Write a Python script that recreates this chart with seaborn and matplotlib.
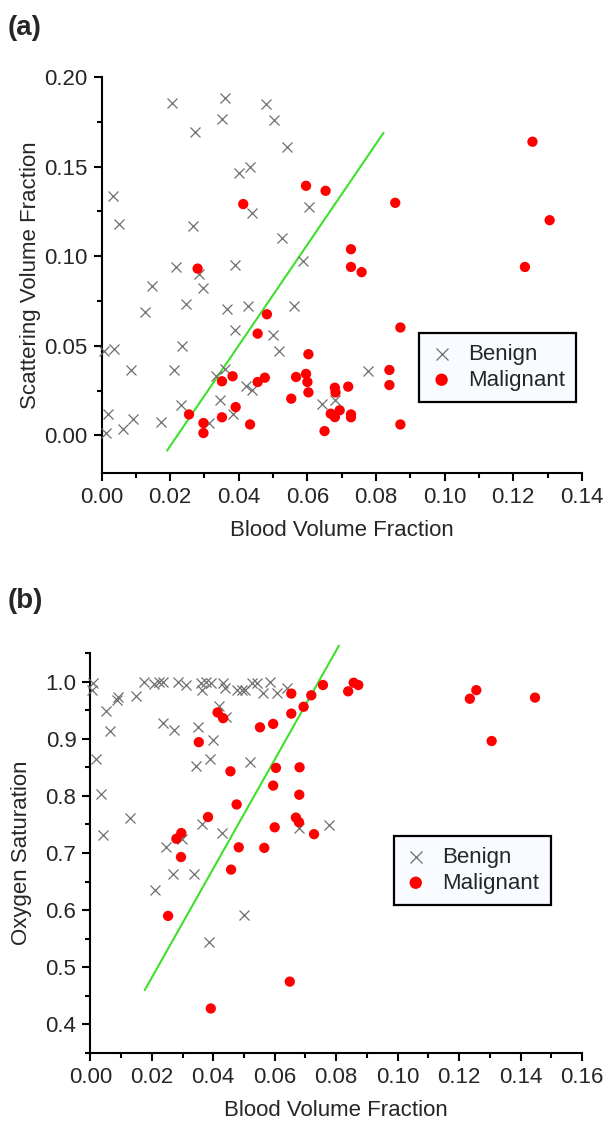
import numpy as np
import pandas as pd
import matplotlib
matplotlib.use("Agg")
import matplotlib.pyplot as plt
import seaborn as sns
from matplotlib.ticker import AutoMinorLocator, FixedLocator, FormatStrFormatter

sns.set_style("ticks")
plt.rcParams['font.family'] = ['Liberation Sans', 'DejaVu Sans']

# ---------------- Panel (a) data ----------------
a_benign_bvf = [0.0206, 0.0360, 0.0478, 0.0351, 0.0503, 0.0271, 0.0541, 0.0401, 0.0433, 0.0033,
                0.0438, 0.0051, 0.0267, 0.0527, 0.0216, 0.0389, 0.0285, 0.0606, 0.0586, 0.0148,
                0.0297, 0.0246, 0.0126, 0.0365, 0.0428, 0.0389, 0.0007, 0.0036, 0.0235, 0.0086,
                0.0211, 0.0334, 0.0360, 0.0421, 0.0439, 0.0346, 0.0231, 0.0018, 0.0091, 0.0174,
                0.0063, 0.0012, 0.0314, 0.0384, 0.0560, 0.0500, 0.0518, 0.0778, 0.0642, 0.0680]
a_benign_svf = [0.1853, 0.1881, 0.1849, 0.1765, 0.1758, 0.1694, 0.1607, 0.1465, 0.1499, 0.1335,
                0.1242, 0.1179, 0.1168, 0.1099, 0.0937, 0.0950, 0.0903, 0.1274, 0.0972, 0.0836,
                0.0823, 0.0736, 0.0688, 0.0708, 0.0721, 0.0587, 0.0469, 0.0484, 0.0499, 0.0363,
                0.0363, 0.0331, 0.0373, 0.0276, 0.0251, 0.0196, 0.0172, 0.0117, 0.0089, 0.0074,
                0.0037, 0.0015, 0.0071, 0.0117, 0.0723, 0.0559, 0.0473, 0.0357, 0.0177, 0.0199]
a_malig_bvf = [0.0413, 0.0280, 0.0596, 0.0653, 0.0856, 0.0727, 0.0727, 0.0758, 0.1256, 0.1306,
               0.1234, 0.0255, 0.0297, 0.0297, 0.0351, 0.0382, 0.0351, 0.0391, 0.0433, 0.0455,
               0.0455, 0.0482, 0.0871, 0.0603, 0.0476, 0.0567, 0.0596, 0.0600, 0.0603, 0.0553,
               0.0680, 0.0682, 0.0719, 0.0668, 0.0680, 0.0694, 0.0727, 0.0727, 0.0650, 0.0839,
               0.0839, 0.0871]
a_malig_svf = [0.1291, 0.0931, 0.1393, 0.1365, 0.1298, 0.1039, 0.0940, 0.0911, 0.1639, 0.1201,
               0.0940, 0.0117, 0.0069, 0.0013, 0.0302, 0.0330, 0.0101, 0.0158, 0.0061, 0.0298,
               0.0568, 0.0676, 0.0602, 0.0453, 0.0322, 0.0326, 0.0343, 0.0298, 0.0240, 0.0205,
               0.0266, 0.0240, 0.0272, 0.0121, 0.0102, 0.0140, 0.0117, 0.0101, 0.0024, 0.0365,
               0.0281, 0.0061]
a_line_x = [0.0191, 0.0822]
a_line_y = [-0.0085, 0.1689]
a_xticks = [0.00, 0.02, 0.04, 0.06, 0.08, 0.10, 0.12, 0.14]
a_yticks = [0.00, 0.05, 0.10, 0.15, 0.20]

# ---------------- Panel (b) data ----------------
b_benign_bvf = [0.0010, 0.0004, 0.0020, 0.0035, 0.0040, 0.0050, 0.0065, 0.0087, 0.0090, 0.0130,
                0.0150, 0.0174, 0.0207, 0.0222, 0.0237, 0.0235, 0.0245, 0.0210, 0.0270, 0.0272,
                0.0285, 0.0297, 0.0312, 0.0338, 0.0345, 0.0351, 0.0360, 0.0363, 0.0364, 0.0375,
                0.0385, 0.0389, 0.0393, 0.0399, 0.0419, 0.0427, 0.0433, 0.0439, 0.0442, 0.0476,
                0.0494, 0.0500, 0.0504, 0.0518, 0.0526, 0.0543, 0.0561, 0.0586, 0.0606, 0.0640,
                0.0680, 0.0777]
b_benign_sat = [0.998, 0.985, 0.864, 0.803, 0.732, 0.948, 0.913, 0.968, 0.973, 0.762,
                0.975, 0.999, 0.995, 1.000, 0.999, 0.927, 0.710, 0.636, 0.663, 0.916,
                0.999, 0.724, 0.994, 0.663, 0.852, 0.921, 0.998, 0.985, 0.751, 1.000,
                0.545, 0.864, 0.998, 0.898, 0.957, 0.735, 0.998, 0.989, 0.938, 0.985,
                0.985, 0.591, 0.985, 0.859, 0.998, 0.998, 0.980, 1.000, 0.980, 0.989,
                0.743, 0.749]
b_malig_bvf = [0.0253, 0.0280, 0.0296, 0.0295, 0.0353, 0.0383, 0.0392, 0.0414, 0.0432, 0.0456,
               0.0458, 0.0476, 0.0483, 0.0552, 0.0566, 0.0595, 0.0595, 0.0600, 0.0604, 0.0649,
               0.0654, 0.0654, 0.0669, 0.0679, 0.0680, 0.0681, 0.0694, 0.0719, 0.0728, 0.0757,
               0.0839, 0.0857, 0.0872, 0.1235, 0.1256, 0.1306, 0.1447]
b_malig_sat = [0.590, 0.725, 0.735, 0.693, 0.894, 0.763, 0.428, 0.946, 0.936, 0.843,
               0.671, 0.785, 0.710, 0.920, 0.709, 0.926, 0.818, 0.745, 0.849, 0.475,
               0.979, 0.944, 0.762, 0.754, 0.802, 0.850, 0.956, 0.976, 0.733, 0.994,
               0.983, 0.998, 0.994, 0.970, 0.985, 0.896, 0.972]
b_line_x = [0.0177, 0.0809]
b_line_y = [0.460, 1.063]
b_xticks = [0.00, 0.02, 0.04, 0.06, 0.08, 0.10, 0.12, 0.14, 0.16]
b_yticks = [0.4, 0.5, 0.6, 0.7, 0.8, 0.9, 1.0]

labels_xy = ("Blood Volume Fraction", "Scattering Volume Fraction", "Oxygen Saturation")

FS = 16
GRAY = '#6e6e6e'
RED = '#ff0000'
GREEN = '#3fe02a'

fig = plt.figure(figsize=(6.05, 11.23), dpi=100)
ax_a = fig.add_axes([0.1678, 0.5788, 0.7940, 0.3526])
ax_b = fig.add_axes([0.1493, 0.0623, 0.8127, 0.3562])


def draw(ax, bx, by, mx, my, lx, ly, xlim, ylim, xticks, yticks, xfmt, yfmt,
         ylabel, leg_anchor, ylab_x, xlab_y):
    dfb = pd.DataFrame({'x': bx, 'y': by})
    dfm = pd.DataFrame({'x': mx, 'y': my})
    sns.scatterplot(data=dfb, x='x', y='y', marker='x', color=GRAY, s=52,
                    linewidth=0.9, label='Benign', ax=ax, zorder=3, clip_on=False)
    sns.scatterplot(data=dfm, x='x', y='y', marker='o', color=RED, s=55,
                    edgecolor='none', linewidth=0, label='Malignant', ax=ax, zorder=4)
    dfl = pd.DataFrame({'x': lx, 'y': ly})
    sns.lineplot(data=dfl, x='x', y='y', color=GREEN, linewidth=1.5, ax=ax,
                 legend=False, clip_on=False, zorder=2)
    ax.set_xlim(*xlim)
    ax.set_ylim(*ylim)
    ax.xaxis.set_major_locator(FixedLocator(xticks))
    ax.yaxis.set_major_locator(FixedLocator(yticks))
    ax.xaxis.set_major_formatter(FormatStrFormatter(xfmt))
    ax.yaxis.set_major_formatter(FormatStrFormatter(yfmt))
    ax.xaxis.set_minor_locator(AutoMinorLocator(2))
    ax.yaxis.set_minor_locator(AutoMinorLocator(2))
    sns.despine(ax=ax)
    for side in ('left', 'bottom'):
        ax.spines[side].set_linewidth(1.5)
        ax.spines[side].set_color('black')
    ax.tick_params(which='major', direction='out', length=6, width=1.5,
                   labelsize=FS, pad=4, color='black')
    ax.tick_params(which='minor', direction='out', length=3.5, width=1.5, color='black')
    ax.set_xlabel(labels_xy[0], fontsize=FS)
    ax.set_ylabel(ylabel, fontsize=FS)
    ax.yaxis.set_label_coords(ylab_x, 0.5)
    ax.xaxis.set_label_coords(0.5, xlab_y)
    h, l = ax.get_legend_handles_labels()
    leg = ax.legend(h, l, loc='upper right', bbox_to_anchor=leg_anchor,
                    borderaxespad=0, frameon=True, fancybox=False, fontsize=FS,
                    handlelength=1.0, handletextpad=0.7, borderpad=0.5,
                    labelspacing=0.2, markerscale=1.2)
    fr = leg.get_frame()
    fr.set_edgecolor('black')
    fr.set_linewidth(1.6)
    fr.set_facecolor('#f8fbff')
    fr.set_alpha(1)


draw(ax_a, a_benign_bvf, a_benign_svf, a_malig_bvf, a_malig_svf, a_line_x, a_line_y,
     (0.0, 0.14), (-0.021, 0.20), a_xticks, a_yticks, '%.2f', '%.2f',
     labels_xy[1], (0.9885, 0.3535), -0.125, -0.119)
draw(ax_b, b_benign_bvf, b_benign_sat, b_malig_bvf, b_malig_sat, b_line_x, b_line_y,
     (0.0, 0.16), (0.35, 1.05), b_xticks, b_yticks, '%.2f', '%.1f',
     labels_xy[2], (0.936, 0.5425), -0.118, -0.1175)

fig.text(0.013, 0.987, '(a)', fontsize=20, fontweight='bold', ha='left', va='top')
fig.text(0.013, 0.476, '(b)', fontsize=20, fontweight='bold', ha='left', va='top')

fig.savefig('out.png', dpi=100, facecolor='white')
